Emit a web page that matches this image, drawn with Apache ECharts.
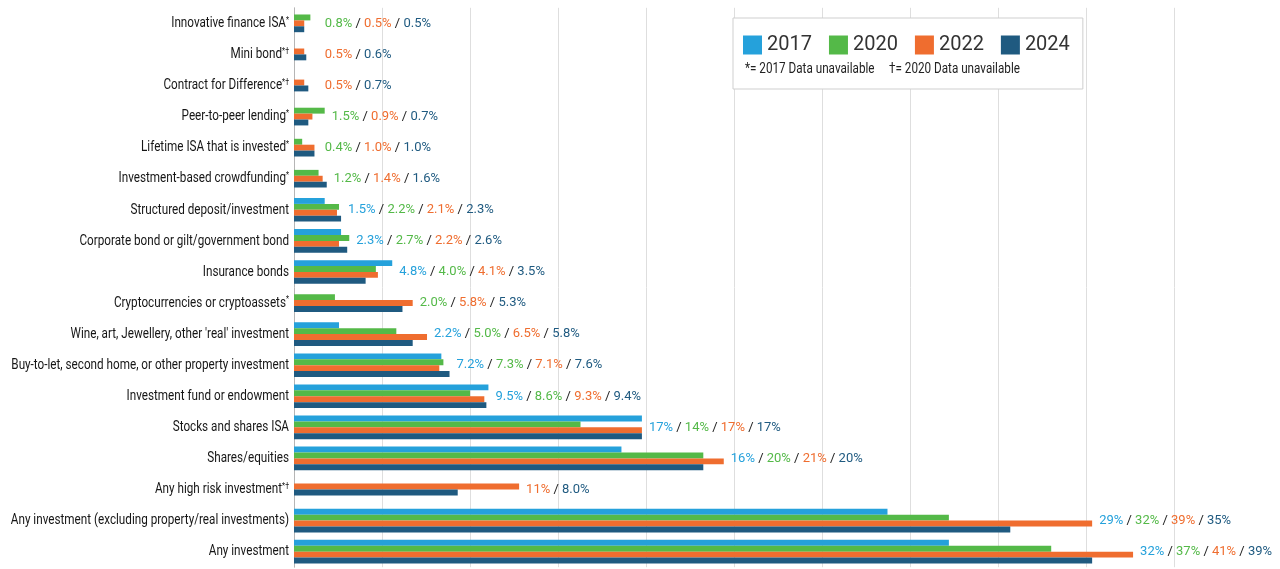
<!DOCTYPE html>
<html>
<head>
<meta charset="utf-8">
<title>Investment holdings</title>
<script src="https://cdn.jsdelivr.net/npm/echarts@6/dist/echarts.min.js"></script>
<style>
html, body { margin: 0; padding: 0; background: #fff; }
#chart { width: 1280px; height: 569px; }
</style>
</head>
<body>
<div id="chart"></div>
<script>
var categories = [
	'Innovative finance ISA',
	'Mini bond',
	'Contract for Difference',
	'Peer-to-peer lending',
	'Lifetime ISA that is invested',
	'Investment-based crowdfunding',
	'Structured deposit/investment',
	'Corporate bond or gilt/government bond',
	'Insurance bonds',
	'Cryptocurrencies or cryptoassets',
	"Wine, art, Jewellery, other 'real' investment",
	'Buy-to-let, second home, or other property investment',
	'Investment fund or endowment',
	'Stocks and shares ISA',
	'Shares/equities',
	'Any high risk investment',
	'Any investment (excluding property/real investments)',
	'Any investment'
];
var notes = ['*', '*†', '*†', '*', '*', '*', '', '', '', '*', '', '', '', '', '', '*†', '', ''];

var years = ['2017', '2020', '2022', '2024'];
var v2017 = [null, null, null, null, null, null, 1.5, 2.3, 4.8, null, 2.2, 7.2, 9.5, 17, 16, null, 29, 32];
var v2020 = [0.8, null, null, 1.5, 0.4, 1.2, 2.2, 2.7, 4.0, 2.0, 5.0, 7.3, 8.6, 14, 20, null, 32, 37];
var v2022 = [0.5, 0.5, 0.5, 0.9, 1.0, 1.4, 2.1, 2.2, 4.1, 5.8, 6.5, 7.1, 9.3, 17, 21, 11, 39, 41];
var v2024 = [0.5, 0.6, 0.7, 0.7, 1.0, 1.6, 2.3, 2.6, 3.5, 5.3, 5.8, 7.6, 9.4, 17, 20, 8.0, 35, 39];

var footnote = '*= 2017 Data unavailable     †= 2020 Data unavailable';

var values = [v2017, v2020, v2022, v2024];
var colors = ['#25a1db', '#54b948', '#ef6d2f', '#1f5a80'];
// no condensed face is installed, so the condensed texts are squeezed
var narrow = 0.78;

function present(ci) {
	var out = [];
	for (var s = 0; s < values.length; s++) {
		if (values[s][ci] != null) out.push(s);
	}
	return out;
}

function fmt(v) {
	return v < 10 ? v.toFixed(1) + '%' : Math.round(v) + '%';
}

// bars of one year, the present bars of a group are centred on the category
function barRenderer(si) {
	return function(params, api) {
		var ci = api.value(1);
		var list = present(ci);
		var h = api.size([0, 1])[1] * 0.19;
		var start = api.coord([0, ci]);
		var end = api.coord([api.value(0), ci]);
		var top = start[1] - list.length * h / 2 + list.indexOf(si) * h;
		return {
			type : 'rect',
			shape : {
				x : start[0],
				y : top,
				width : end[0] - start[0],
				height : h
			},
			style : {
				fill : colors[si]
			}
		};
	};
}

var rich = {
	sl : {
		fill : '#222',
		fontSize : 13,
		fontFamily : 'Roboto'
	}
};
colors.forEach(function(c, i) {
	rich['c' + i] = {
		fill : c,
		fontSize : 13,
		fontFamily : 'Roboto'
	};
});

function labelRenderer(params, api) {
	var ci = api.value(1);
	var list = present(ci);
	var p = api.coord([api.value(0), ci]);
	var x = Math.max(p[0] + 7, api.coord([1.5, ci])[0]);
	var text = list.map(function(s) {
		return '{c' + s + '|' + fmt(values[s][ci]) + '}';
	}).join('{sl| / }');
	return {
		type : 'text',
		x : x,
		y : p[1],
		style : {
			text : text,
			rich : rich,
			align : 'left',
			verticalAlign : 'middle',
			fontSize : 13,
			fontFamily : 'Roboto'
		}
	};
}

// category names, drawn narrow at the left of the axis
function nameRenderer(params, api) {
	var ci = api.value(1);
	var p = api.coord([0, ci]);
	var text = '{n|' + categories[ci] + '}' + (notes[ci] ? '{s|' + notes[ci] + '}' : '');
	return {
		type : 'text',
		x : p[0] - 5,
		y : p[1],
		scaleX : narrow,
		style : {
			text : text,
			align : 'right',
			verticalAlign : 'middle',
			rich : {
				n : {
					fontSize : 15,
					fontFamily : 'Roboto',
					fill : '#161616'
				},
				s : {
					fontSize : 9,
					fontFamily : 'Roboto',
					fill : '#161616',
					verticalAlign : 'top'
				}
			}
		}
	};
}

var series = years.map(function(y, si) {
	var data = [];
	values[si].forEach(function(v, ci) {
		if (v != null) data.push([v, ci]);
	});
	return {
		name : y,
		type : 'custom',
		renderItem : barRenderer(si),
		encode : {
			x : 0,
			y : 1
		},
		itemStyle : {
			color : colors[si]
		},
		data : data
	};
});

series.push({
	type : 'custom',
	renderItem : labelRenderer,
	encode : {
		x : 0,
		y : 1
	},
	silent : true,
	data : categories.map(function(c, ci) {
		var m = 0;
		present(ci).forEach(function(s) {
			m = Math.max(m, values[s][ci]);
		});
		return [m, ci];
	})
});

series.push({
	type : 'custom',
	renderItem : nameRenderer,
	encode : {
		x : 0,
		y : 1
	},
	silent : true,
	data : categories.map(function(c, ci) {
		return [0, ci];
	})
});

var chart = echarts.init(document.getElementById('chart'));

var option = {
	animation : false,
	color : colors,
	legend : {
		data : years,
		left : 733,
		top : 18,
		icon : 'rect',
		itemWidth : 19,
		itemHeight : 19,
		itemGap : 17,
		padding : [17, 13, 34, 10],
		borderColor : '#cfcfcf',
		borderWidth : 1,
		backgroundColor : '#fff',
		selectedMode : false,
		textStyle : {
			fontSize : 20,
			color : '#333',
			fontFamily : 'Roboto'
		}
	},
	graphic : [{
		type : 'text',
		left : 745,
		top : 62,
		scaleX : narrow,
		z : 100,
		style : {
			text : footnote,
			fontSize : 15,
			fontFamily : 'Roboto',
			fill : '#222'
		}
	}],
	grid : {
		left : 294,
		right : 106,
		top : 7.8,
		bottom : 1.8,
		outerBoundsMode : 'none'
	},
	xAxis : {
		type : 'value',
		min : 0,
		max : 43,
		interval : 4.3,
		axisLabel : {
			show : false
		},
		axisLine : {
			show : false
		},
		axisTick : {
			show : false
		},
		splitLine : {
			lineStyle : {
				color : '#dedede'
			}
		}
	},
	yAxis : {
		type : 'category',
		inverse : true,
		data : categories,
		axisTick : {
			show : false
		},
		axisLabel : {
			show : false
		},
		axisLine : {
			lineStyle : {
				color : '#b5b5b5'
			}
		}
	},
	series : series
};

chart.setOption(option);
</script>
</body>
</html>
